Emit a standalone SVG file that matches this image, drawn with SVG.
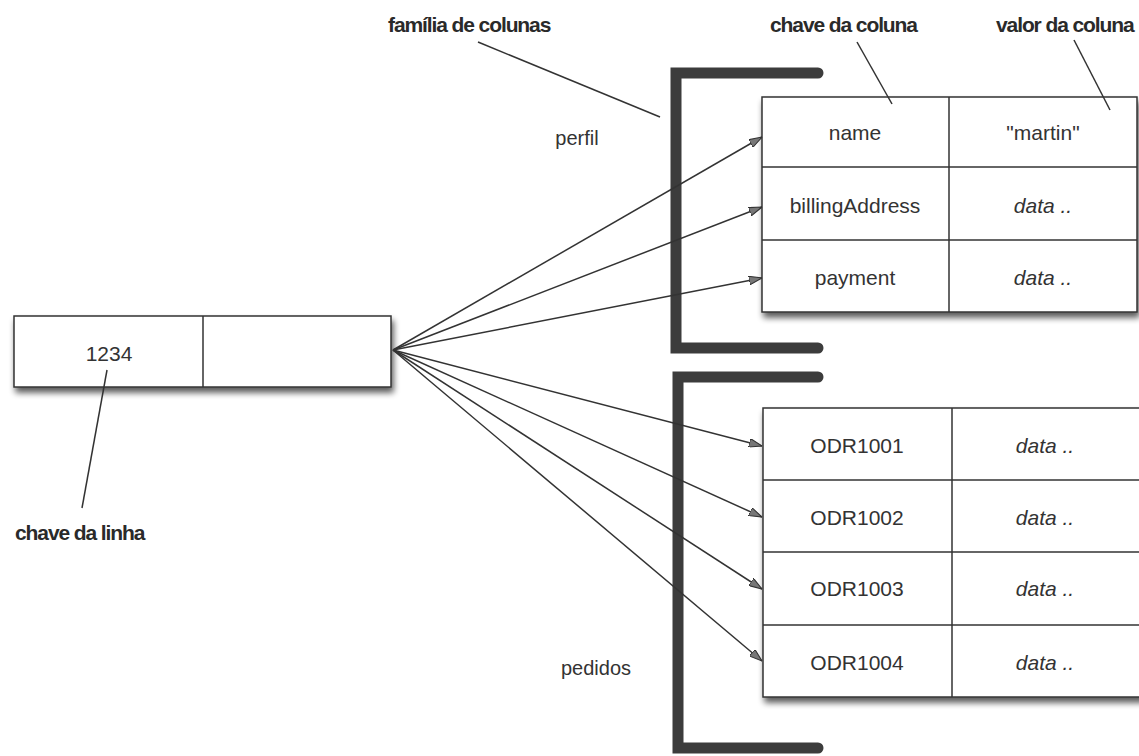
<svg xmlns="http://www.w3.org/2000/svg" width="1139" height="756" viewBox="0 0 1139 756">
<style>
.lbl{font-family:"Liberation Sans",Arial,sans-serif;font-weight:bold;font-size:21px;fill:#2a2a2a;letter-spacing:-1.1px}
.cell{font-family:"Liberation Sans",Arial,sans-serif;font-size:21px;fill:#333;text-anchor:middle}
.it{font-style:italic}
.box{fill:#fff;stroke:#333;stroke-width:1.5}
.div{stroke:#333;stroke-width:1.5}
.lead{stroke:#333;stroke-width:1.5;fill:none}
.arr{stroke:#333;stroke-width:1.5;fill:none;marker-end:url(#ah)}
.brk{stroke:#3c3c3c;stroke-width:11;fill:none;stroke-linecap:round;stroke-linejoin:miter}
</style>
<defs>
<filter id="sh" x="-5%" y="-10%" width="115%" height="130%">
<feGaussianBlur in="SourceAlpha" stdDeviation="3"/>
<feOffset dx="2" dy="5" result="b"/>
<feComponentTransfer><feFuncA type="linear" slope="0.65"/></feComponentTransfer>
<feMerge><feMergeNode/><feMergeNode in="SourceGraphic"/></feMerge>
</filter>
<marker id="ah" viewBox="0 0 12 8" refX="12" refY="4" markerWidth="13" markerHeight="9" markerUnits="userSpaceOnUse" orient="auto">
<path d="M0,0 L12,4 L0,8 Z" fill="#777" stroke="#333" stroke-width="1"/>
</marker>
</defs>
<rect width="1139" height="756" fill="#fff"/>

<g id="brackets">
<path class="brk" d="M818 73 H676 V348 H818"/>
<path class="brk" d="M818 377 H678 V748 H818"/>
</g>

<g id="rowkey">
<rect class="box" x="14" y="316" width="377" height="71" filter="url(#sh)"/>
<line class="div" x1="203" y1="316" x2="203" y2="387"/>
<text class="cell" x="109" y="361">1234</text>
</g>

<g id="perfil-table">
<rect class="box" x="762" y="97" width="375" height="215" filter="url(#sh)"/>
<line class="div" x1="949" y1="97" x2="949" y2="312"/>
<line class="div" x1="762" y1="167" x2="1137" y2="167"/>
<line class="div" x1="762" y1="240" x2="1137" y2="240"/>
<text class="cell" x="855" y="140">name</text>
<text class="cell" x="1043" y="140">"martin"</text>
<text class="cell" x="855" y="213">billingAddress</text>
<text class="cell it" x="1043" y="213">data ..</text>
<text class="cell" x="855" y="285">payment</text>
<text class="cell it" x="1043" y="285">data ..</text>
</g>

<g id="pedidos-table">
<rect class="box" x="763" y="408" width="380" height="289" filter="url(#sh)"/>
<line class="div" x1="952" y1="408" x2="952" y2="697"/>
<line class="div" x1="763" y1="480" x2="1139" y2="480"/>
<line class="div" x1="763" y1="552" x2="1139" y2="552"/>
<line class="div" x1="763" y1="625" x2="1139" y2="625"/>
<text class="cell" x="857" y="453">ODR1001</text>
<text class="cell it" x="1045" y="453">data ..</text>
<text class="cell" x="857" y="525">ODR1002</text>
<text class="cell it" x="1045" y="525">data ..</text>
<text class="cell" x="857" y="596">ODR1003</text>
<text class="cell it" x="1045" y="596">data ..</text>
<text class="cell" x="857" y="670">ODR1004</text>
<text class="cell it" x="1045" y="670">data ..</text>
</g>

<g id="connectors">
<line class="arr" x1="393" y1="350" x2="762" y2="137"/>
<line class="arr" x1="393" y1="350" x2="762" y2="207"/>
<line class="arr" x1="393" y1="350" x2="762" y2="278"/>
<line class="arr" x1="393" y1="350" x2="762" y2="446"/>
<line class="arr" x1="393" y1="350" x2="762" y2="517"/>
<line class="arr" x1="393" y1="350" x2="762" y2="589"/>
<line class="arr" x1="393" y1="350" x2="762" y2="661"/>
<line class="lead" x1="478" y1="42" x2="660" y2="117"/>
<line class="lead" x1="857" y1="42" x2="892" y2="104"/>
<line class="lead" x1="1074" y1="40" x2="1110" y2="110"/>
<line class="lead" x1="107" y1="370" x2="82" y2="508"/>
</g>

<g id="labels">
<text class="lbl" x="388" y="32">família de colunas</text>
<text class="lbl" x="770" y="32">chave da coluna</text>
<text class="lbl" x="996" y="32">valor da coluna</text>
<text class="lbl" x="15" y="540">chave da linha</text>
<text class="cell" x="577" y="145" style="font-size:20px">perfil</text>
<text class="cell" x="596" y="675" style="font-size:20px">pedidos</text>
</g>
</svg>
